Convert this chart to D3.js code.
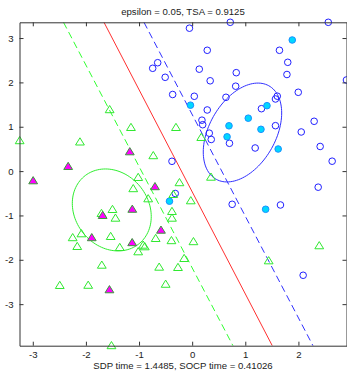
<!DOCTYPE html>
<html>
<head>
<meta charset="utf-8">
<script src="https://cdn.jsdelivr.net/npm/d3@7"></script>
<style>
  html, body { margin: 0; padding: 0; background: #fff; }
  svg { display: block; }
  text { font-family: "Liberation Sans", Arial, sans-serif; fill: #222; }
</style>
</head>
<body>
<script>
// data
var xTicks = [-3, -2, -1, 0, 1, 2];
var yTicks = [-3, -2, -1, 0, 1, 2, 3];
var xLimits = [-3.25, 2.905];
var yLimits = [-3.937, 3.355];

var titleText = "epsilon = 0.05, TSA = 0.9125";
var xlabelText = "SDP time = 1.4485, SOCP time = 0.41026";

// class +1 (blue circles)
var posPoints = [
  [-0.051, 3.222], [0.717, 3.355], [2.562, 3.355], [0.284, 2.724], [1.643, 2.724],
  [1.799, 2.453], [-0.649, 2.444], [-0.743, 2.318], [0.134, 2.298], [0.830, 2.219],
  [1.784, 2.178], [-0.508, 2.115], [0.339, 2.036], [2.904, 2.054], [0.819, 1.914],
  [-0.367, 1.727], [0.040, 1.687], [0.636, 1.664], [1.997, 1.777], [1.602, 1.689],
  [1.568, 1.626], [0.284, 1.378], [1.304, 1.407], [0.184, 1.148], [0.198, 1.046],
  [2.296, 1.123], [1.568, 1.024], [0.322, 0.855], [0.359, 0.713], [0.702, 0.627],
  [2.053, 0.882], [1.186, 0.521], [2.409, 0.555], [-0.380, 0.221], [2.635, 0.223],
  [2.372, -0.363], [-0.318, -0.505], [0.753, -0.749], [1.662, -0.764], [2.089, -2.349]
];
var posMarked = [
  [1.884, 2.956], [-0.032, 1.486], [1.408, 1.475], [1.056, 1.193], [0.693, 1.021],
  [1.295, 0.942], [0.657, 0.773], [1.619, 0.498], [-0.427, -0.679], [1.383, -0.861]
];

// class -1 (green triangles)
var negPoints = [
  [-3.247, 0.685], [-2.112, 0.656], [-1.553, 1.384], [-1.152, 0.983], [-0.305, 0.983],
  [0.171, 0.758], [-0.732, 0.347], [-1.016, -0.144], [-0.239, -0.262], [0.354, -0.138],
  [-1.109, -0.397], [-0.828, -0.625], [-0.356, -0.528], [-0.026, -0.670], [-1.707, -0.956],
  [-1.500, -0.866], [-1.444, -1.062], [-0.380, -0.911], [-0.380, -1.062], [-2.084, -1.414],
  [-2.249, -1.502], [-1.534, -1.475], [-0.687, -1.520], [-0.390, -1.569], [0.024, -1.592],
  [-2.163, -1.700], [-1.363, -1.723], [-0.922, -1.671], [-0.892, -1.707], [-1.016, -1.820],
  [-0.151, -1.971], [-1.701, -2.122], [-0.621, -2.167], [-0.267, -2.174], [-2.492, -2.579],
  [-1.957, -2.575], [-0.499, -2.552], [-1.519, -3.937], [1.440, -2.023], [2.392, -1.684]
];
var negMarked = [
  [-1.174, 0.435], [-2.334, 0.104], [-2.993, -0.219], [-0.700, -0.352], [-1.685, -1.001],
  [-1.127, -0.861], [-0.587, -1.333], [-1.890, -1.502], [-1.129, -1.614], [-1.557, -2.676]
];

// separating line and margins: [x at top, y top], [x at bottom, y bottom]
var midLine = [[-1.660, 3.355], [1.508, -3.937]];
var posMargin = [[-0.907, 3.355], [2.274, -3.937]];
var negMargin = [[-2.422, 3.355], [0.768, -3.937]];

// ellipses: center, then x = cx + a*cos t, y = cy + b*cos t + c*sin t
var posEllipse = [0.947, 0.870, 0.738, 0.440, 1.024];
var negEllipse = [-1.513, -0.876, 0.743, -0.149, 0.912];

var chart = (function() {
  var width = 347, height = 373;
  var pLeft = 19.5, pRight = 346.5, pTop = 22.3, pBottom = 345.7;
  var fontSize = 9.6;

  var svg = d3.select("body").append("svg")
      .attr("width", width)
      .attr("height", height);

  var x = d3.scaleLinear().domain(xLimits).range([pLeft, pRight]);
  var y = d3.scaleLinear().domain(yLimits).range([pBottom, pTop]);

  svg.append("clipPath").attr("id", "plotclip")
    .append("rect")
      .attr("x", pLeft).attr("y", pTop)
      .attr("width", pRight - pLeft).attr("height", pBottom - pTop);

  var plot = svg.append("g").attr("clip-path", "url(#plotclip)");

  var line = d3.line()
      .x(function(d) { return x(d[0]); })
      .y(function(d) { return y(d[1]); });

  var ellipsePts = function(e) {
    return d3.range(0, 121).map(function(i) {
      var t = i / 120 * 2 * Math.PI;
      return [e[0] + e[2] * Math.cos(t), e[1] + e[3] * Math.cos(t) + e[4] * Math.sin(t)];
    });
  };

  var place = function(d) { return "translate(" + x(d[0]) + "," + y(d[1]) + ")"; };

  // circles
  svg.append("g").selectAll("circle")
      .data(posPoints)
    .enter().append("circle")
      .attr("cx", function(d) { return x(d[0]); })
      .attr("cy", function(d) { return y(d[1]); })
      .attr("r", 3.3)
      .attr("fill", "none")
      .attr("stroke", "#2020ff")
      .attr("stroke-width", 1);

  svg.append("g").selectAll("circle")
      .data(posMarked)
    .enter().append("circle")
      .attr("cx", function(d) { return x(d[0]); })
      .attr("cy", function(d) { return y(d[1]); })
      .attr("r", 3.3)
      .attr("fill", "#00d8ff")
      .attr("stroke", "#1a90ff")
      .attr("stroke-width", 1);

  // triangles
  var tri = "M0,-4.2L4.4,3L-4.4,3Z";

  svg.append("g").selectAll("path")
      .data(negPoints)
    .enter().append("path")
      .attr("d", tri)
      .attr("transform", place)
      .attr("fill", "none")
      .attr("stroke", "#30e830")
      .attr("stroke-width", 1);

  svg.append("g").selectAll("path")
      .data(negMarked)
    .enter().append("path")
      .attr("d", tri)
      .attr("transform", place)
      .attr("fill", "#ff00ff")
      .attr("stroke", "#3a9a3a")
      .attr("stroke-width", 1);

  // lines and ellipses
  plot.append("path").datum(midLine)
      .attr("d", line).attr("fill", "none")
      .attr("stroke", "#ff3030").attr("stroke-width", 1);
  plot.append("path").datum(posMargin)
      .attr("d", line).attr("fill", "none")
      .attr("stroke", "#3030ff").attr("stroke-width", 1)
      .attr("stroke-dasharray", "7,4");
  plot.append("path").datum(negMargin)
      .attr("d", line).attr("fill", "none")
      .attr("stroke", "#30ff30").attr("stroke-width", 1)
      .attr("stroke-dasharray", "7,4");
  plot.append("path").datum(ellipsePts(posEllipse))
      .attr("d", line).attr("fill", "none")
      .attr("stroke", "#3030ff").attr("stroke-width", 1);
  plot.append("path").datum(ellipsePts(negEllipse))
      .attr("d", line).attr("fill", "none")
      .attr("stroke", "#30ee30").attr("stroke-width", 1);

  // axes, ticks inside on all four sides
  var fmt = function(d) { return String(d); };

  var styleAxis = function(g) {
    g.selectAll("path.domain").attr("stroke", "#333");
    g.selectAll(".tick line").attr("stroke", "#333");
    g.selectAll(".tick text").attr("fill", "#222")
      .style("font-family", "\"Liberation Sans\", Arial, sans-serif");
  };

  svg.append("g").attr("transform", "translate(0," + pBottom + ")")
      .call(d3.axisBottom(x).tickValues(xTicks).tickFormat(fmt)
        .tickSizeInner(-4).tickSizeOuter(0).tickPadding(5.5))
      .attr("font-size", fontSize)
      .call(styleAxis);
  svg.append("g").attr("transform", "translate(0," + pTop + ")")
      .call(d3.axisTop(x).tickValues(xTicks).tickFormat("")
        .tickSizeInner(-4).tickSizeOuter(0))
      .call(styleAxis);
  svg.append("g").attr("transform", "translate(" + pLeft + ",0)")
      .call(d3.axisLeft(y).tickValues(yTicks).tickFormat(fmt)
        .tickSizeInner(-4).tickSizeOuter(0).tickPadding(6))
      .attr("font-size", fontSize)
      .call(styleAxis);
  svg.append("g").attr("transform", "translate(" + pRight + ",0)")
      .call(d3.axisRight(y).tickValues(yTicks).tickFormat("")
        .tickSizeInner(-4).tickSizeOuter(0))
      .call(styleAxis);

  svg.append("text")
      .attr("x", (pLeft + pRight) / 2)
      .attr("y", 15)
      .attr("text-anchor", "middle")
      .attr("font-size", fontSize)
      .text(titleText);

  svg.append("text")
      .attr("x", (pLeft + pRight) / 2)
      .attr("y", 369)
      .attr("text-anchor", "middle")
      .attr("font-size", fontSize)
      .text(xlabelText);

  return svg;
})();
</script>
</body>
</html>
